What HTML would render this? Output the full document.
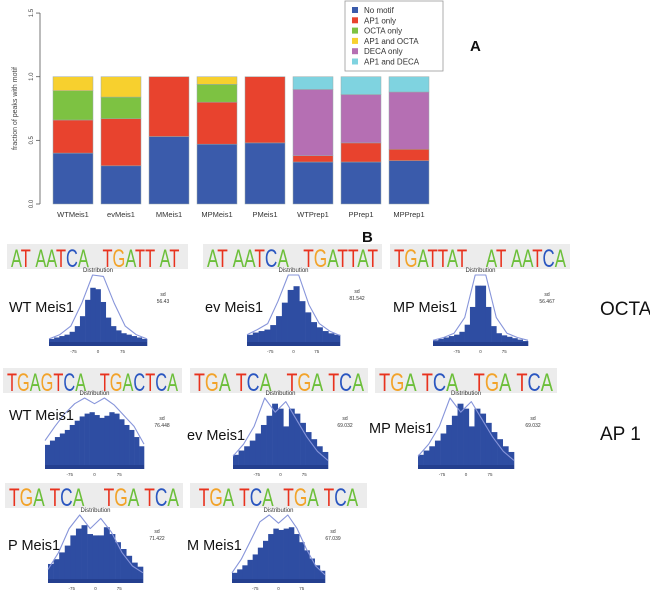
<!DOCTYPE html>
<html><head><meta charset="utf-8"><style>
body{margin:0;background:#fff;font-family:"Liberation Sans",sans-serif}
svg{display:block}
</style></head><body>
<svg id="fig" width="650" height="600" viewBox="0 0 650 600" xmlns="http://www.w3.org/2000/svg" font-family="Liberation Sans, sans-serif">
<g id="chartA"></g>
<g id="panels"></g>
</svg>
<script>
const categories=["WTMeis1","evMeis1","MMeis1","MPMeis1","PMeis1","WTPrep1","PPrep1","MPPrep1"];
const seriesNames=["No motif","AP1 only","OCTA only","AP1 and OCTA","DECA only","AP1 and DECA"];
const seriesColors=["#3a5bab","#e8432e","#7dc242","#f7d02e","#b56fb3","#7fd3e0"];
const noMotif=[0.40,0.30,0.53,0.47,0.48,0.33,0.33,0.34];
const ap1Only=[0.26,0.37,0.47,0.33,0.52,0.05,0.15,0.09];
const octaOnly=[0.23,0.17,0,0.14,0,0,0,0];
const ap1Octa=[0.11,0.16,0,0.06,0,0,0,0];
const decaOnly=[0,0,0,0,0,0.52,0.38,0.45];
const ap1Deca=[0,0,0,0,0,0.10,0.14,0.12];
const yTicks=[0,0.5,1.0,1.5];

const NS="http://www.w3.org/2000/svg";
function mk(tag,attrs,parent,txt){const e=document.createElementNS(NS,tag);for(const k in attrs)e.setAttribute(k,attrs[k]);if(txt!==undefined)e.textContent=txt;parent.appendChild(e);return e;}
const yS=v=>204-v*127.3;
const xS=i=>53+i*48;
const A=document.getElementById('chartA');
let ax=mk('line',{x1:40,x2:40,y1:yS(0),y2:yS(1.5),stroke:'#555','stroke-width':0.8},A);


yTicks.forEach(t=>{
  mk('line',{x1:36,x2:40,y1:yS(t),y2:yS(t),stroke:'#555','stroke-width':0.8},A);
  const tx=mk('text',{x:0,y:0,'font-size':6,fill:'#444','text-anchor':'middle',transform:`translate(33,${yS(t)}) rotate(-90)`},A,t.toFixed(1));
  
  
});
const yt=mk('text',{'font-size':7,fill:'#444','text-anchor':'middle',transform:`translate(17,${yS(0.75)}) rotate(-90)`},A,'fraction of peaks with motif');


const series=[noMotif,ap1Only,octaOnly,ap1Octa,decaOnly,ap1Deca];
categories.forEach((c,i)=>{
  let cum=0;
  series.forEach((s,k)=>{
    const v=s[i]; if(v<=0) return;
    const r=mk('rect',{x:xS(i),y:yS(cum+v),width:40,height:yS(cum)-yS(cum+v),fill:seriesColors[k],stroke:'#9aa','stroke-width':0.5},A);
    
    
    cum+=v;
  });
  const l=mk('text',{x:xS(i)+20,y:217,'font-size':7.5,fill:'#333','text-anchor':'middle'},A,c);
  
  
});
const lg=mk('g',{},A);


mk('rect',{x:345,y:1,width:98,height:70,fill:'#fff',stroke:'#999','stroke-width':0.8},lg);
seriesNames.forEach((n,k)=>{
  const g=mk('g',{},lg);
  
  
  mk('rect',{x:352,y:7+k*10.3,width:6,height:6,fill:seriesColors[k]},g);
  mk('text',{x:364,y:13+k*10.3,'font-size':8,fill:'#333'},g,n);
});
const la=mk('text',{x:470,y:51,'font-size':15,'font-weight':'bold',fill:'#111'},A,'A');



// ---- Panel B ----
const P=document.getElementById('panels');
const lb=mk('text',{x:362,y:242,'font-size':15,'font-weight':'bold',fill:'#111'},P,'B');


const colorOf={A:'#6cbf3a',T:'#e8321e',G:'#f2a32a',C:'#2a56c0'};
function logo(x,y,w,h,str){
  const g=mk('g',{},P);
  
  
  mk('rect',{x:x,y:y,width:w,height:h,fill:'#ececec'},g);
  const t=mk('text',{x:x+4,y:y+h-2,'font-size':h*1.0,textLength:w-8,lengthAdjust:'spacingAndGlyphs','xml:space':'preserve'},g);
  for(const ch of str){mk('tspan',{fill:colorOf[ch]||'#fff'},t,ch===' '?'\u00a0':ch);}
}
function hist(x,y,w,h,vals,curve,label,lx,ly,sd,sx,sy){
  const g=mk('g',{},P);
  
  
  const mx=Math.max(...curve);
  const bw=w/vals.length;
  vals.forEach((v,i)=>{
    const bh=v/mx*h;
    const r=mk('rect',{x:x+i*bw,y:y+h-bh,width:bw+0.3,height:bh,fill:'#2e4da2'},g);
    
    
  });
  mk('rect',{x:x,y:y+h-4,width:w,height:4,fill:'#243f8f'},g);
  let d='';
  curve.forEach((v,i)=>{const px=x+i*w/(curve.length-1),py=y+h-v/mx*h;d+=(i?' L':'M')+px.toFixed(1)+' '+py.toFixed(1);});
  mk('path',{d:d,fill:'none',stroke:'#8795da','stroke-width':1.1,'stroke-linejoin':'round'},g);
  mk('text',{x:x+w/2,y:y-3,'font-size':6,fill:'#333','text-anchor':'middle'},g,'Distribution');
  mk('text',{x:x+w*0.25,y:y+h+7,'font-size':4.5,fill:'#444','text-anchor':'middle'},g,'-75');
  mk('text',{x:x+w*0.5,y:y+h+7,'font-size':4.5,fill:'#444','text-anchor':'middle'},g,'0');
  mk('text',{x:x+w*0.75,y:y+h+7,'font-size':4.5,fill:'#444','text-anchor':'middle'},g,'75');
  const lt=mk('text',{x:lx,y:ly,'font-size':14.5,fill:'#111'},P,label);
  
  
  mk('text',{x:sx,y:sy,'font-size':5,fill:'#333','text-anchor':'middle'},P,'sd');
  mk('text',{x:sx,y:sy+7,'font-size':5,fill:'#333','text-anchor':'middle'},P,sd);
}
// OCTA row
const octaWT=[10,12,14,16,20,28,42,65,82,80,62,40,28,22,18,16,14,12,10];
const octaWTc=[10,16,28,60,100,98,60,28,16,10];
const octaEv=[15,18,20,22,28,40,58,75,80,60,45,32,25,20,17,15];
const octaEvc=[15,22,30,60,95,95,55,30,20,14];
const octaMP=[8,10,12,14,16,20,30,55,85,85,55,28,18,15,13,11,9,7];
const octaMPc=[8,12,18,40,100,100,40,18,12,8];
logo(7,244,181,25,"AT AATCA   TGATT AT ");
logo(203,244,179,25,"AT AATCA   TGATTAT");
logo(390,244,180,25,"TGATTAT    AT AATCA");
hist(49,275,98,71,octaWT,octaWTc,'WT Meis1',9,312,'56.43',163,296);
hist(247,275,93,71,octaEv,octaEvc,'ev Meis1',205,312,'81.542',357,293);
hist(433,275,95,71,octaMP,octaMPc,'MP Meis1',393,312,'56.467',547,296);
const o=mk('text',{x:600,y:315,'font-size':19,fill:'#111'},P,'OCTA');


// AP1 row
const apWT=[34,40,45,50,55,62,68,74,78,80,76,72,75,80,78,70,62,55,45,32];
const apWTc=[40,60,78,92,100,92,100,90,75,60,35];
const apEv=[20,26,32,40,50,62,75,92,85,60,85,78,65,52,42,32,24];
const apEvc=[18,35,60,100,80,95,70,45,25,12];
const apMP=[20,26,32,40,50,62,75,92,85,60,85,78,65,52,42,32,24];
const apMPc=[18,35,60,100,80,95,70,45,25,12];
logo(3,368,179,25,"TGAGTCA   TGACTCA");
logo(190,368,178,25,"TGA TCA   TGA TCA");
logo(375,368,182,25,"TGA TCA   TGA TCA");
hist(45,398,99,71,apWT,apWTc,'WT Meis1',9,420,'76.448',162,420);
hist(233,398,95,71,apEv,apEvc,'ev Meis1',187,440,'69.032',345,420);
hist(418,398,96,71,apMP,apMPc,'MP Meis1',369,433,'69.032',533,420);
const ap=mk('text',{x:600,y:440,'font-size':19,fill:'#111'},P,'AP 1');


// bottom row
const apP=[28,35,45,55,70,80,85,72,70,70,82,72,60,50,40,30,24];
const apPc=[20,45,80,100,80,95,75,45,25,15];
const apM=[15,20,26,34,42,52,62,72,80,78,80,82,72,60,48,36,26,18];
const apMc=[15,35,62,90,100,88,100,80,50,25,12];
logo(5,483,178,25,"TGA TCA    TGA TCA");
logo(190,483,177,25," TGA TCA  TGA TCA ");
hist(48,515,95,68,apP,apPc,'P Meis1',8,550,'71.422',157,533);
hist(232,515,93,68,apM,apMc,'M Meis1',187,550,'67.039',333,533);
</script>
</body></html>
